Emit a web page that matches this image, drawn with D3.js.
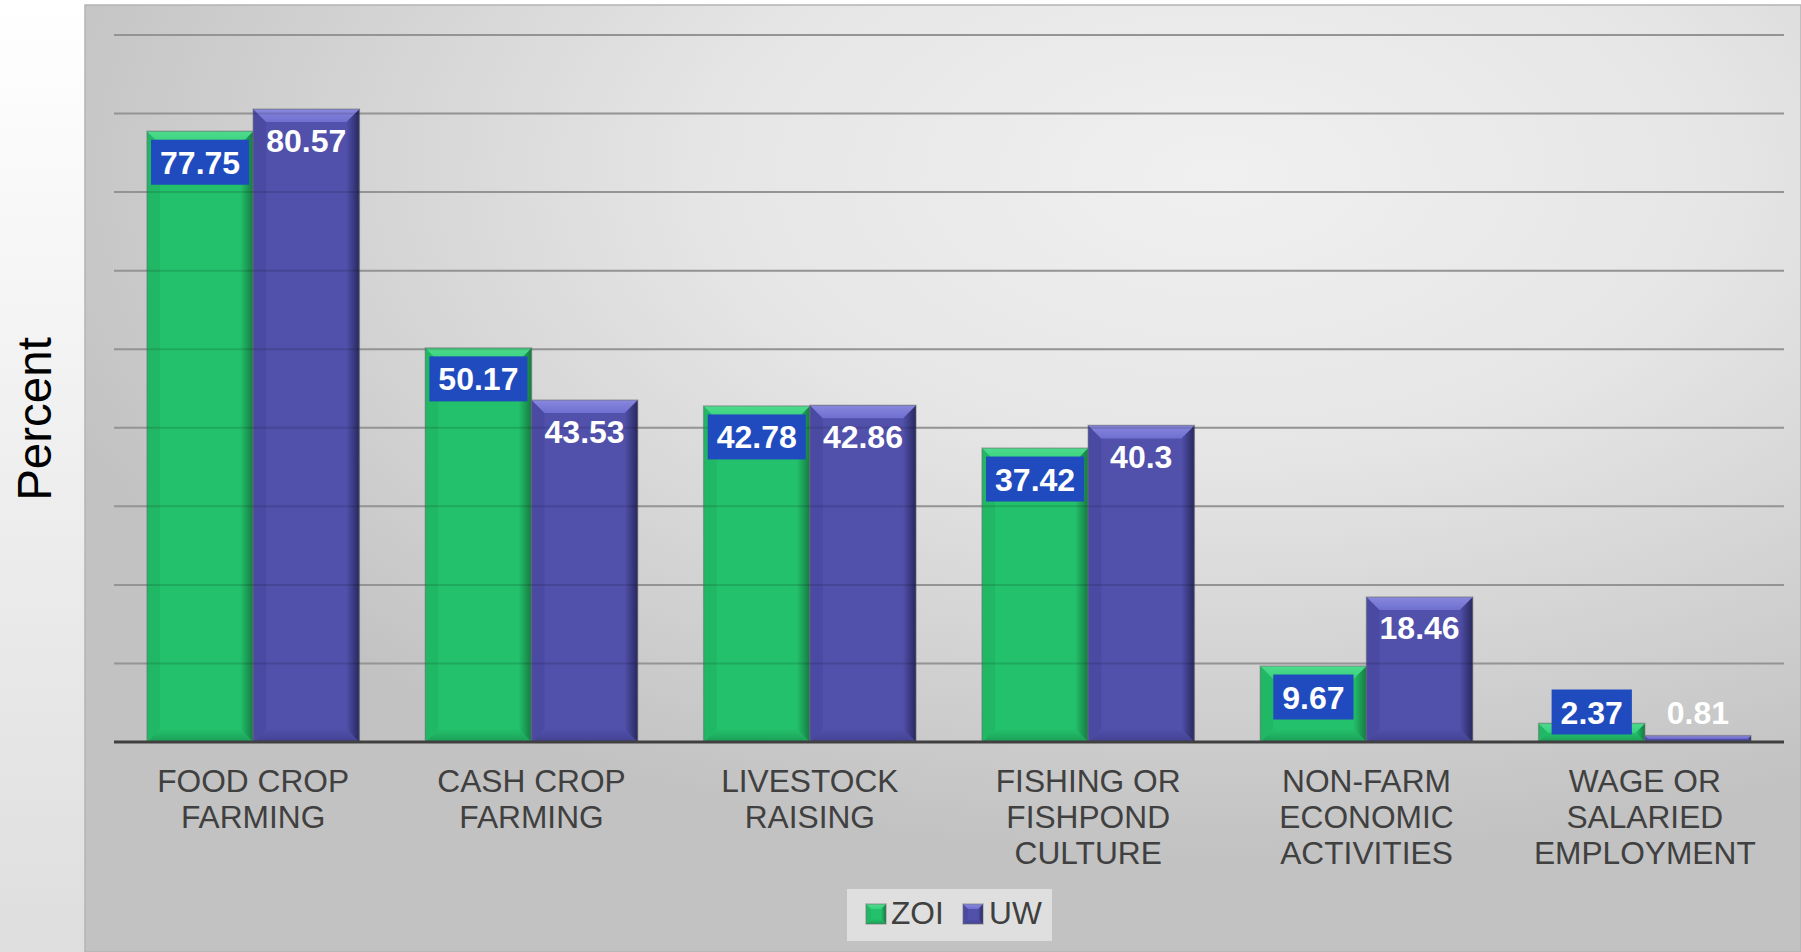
<!DOCTYPE html>
<html><head><meta charset="utf-8">
<script src="https://cdn.jsdelivr.net/npm/d3@7"></script>
<style>html,body{margin:0;padding:0;background:#fff;}svg{display:block;}</style>
</head><body>
<svg id="chart" width="1801" height="952"></svg>
<script>
const categories = ["FOOD CROP FARMING","CASH CROP FARMING","LIVESTOCK RAISING","FISHING OR FISHPOND CULTURE","NON-FARM ECONOMIC ACTIVITIES","WAGE OR SALARIED EMPLOYMENT"];
const categoryLines = [["FOOD CROP","FARMING"],["CASH CROP","FARMING"],["LIVESTOCK","RAISING"],["FISHING OR","FISHPOND","CULTURE"],["NON-FARM","ECONOMIC","ACTIVITIES"],["WAGE OR","SALARIED","EMPLOYMENT"]];
const series = ["ZOI","UW"];
const zoiValues = [77.75, 50.17, 42.78, 37.42, 9.67, 2.37];
const uwValues = [80.57, 43.53, 42.86, 40.3, 18.46, 0.81];
const yTicks = [0,10,20,30,40,50,60,70,80,90];
const yTitle = "Percent";

const svg = d3.select("#chart");
const W = 1801, H = 952;
const defs = svg.append("defs");

const pg = defs.append("linearGradient").attr("id","pageBg").attr("x1",0).attr("y1",0).attr("x2",0).attr("y2",1);
pg.append("stop").attr("offset",0).attr("stop-color","#ffffff");
pg.append("stop").attr("offset",1).attr("stop-color","#dedede");
svg.append("rect").attr("width",W).attr("height",H).attr("fill","url(#pageBg)");

const cg = defs.append("radialGradient").attr("id","chartBg")
  .attr("cx",0.66).attr("cy",0.18).attr("r",0.72);
cg.append("stop").attr("offset",0).attr("stop-color","#f0f0f0");
cg.append("stop").attr("offset",0.4).attr("stop-color","#e6e6e6");
cg.append("stop").attr("offset",1).attr("stop-color","#c2c2c2");
svg.append("rect").attr("x",85).attr("y",5).attr("width",W-85).attr("height",H-5)
  .attr("fill","url(#chartBg)").attr("stroke","#b4b4b4").attr("stroke-width",1.5);

const plot = {left:114, right:1784, top:35, bottom:742};
const x0 = d3.scaleBand().domain(categories).range([plot.left, plot.right]).paddingInner(0.237).paddingOuter(0.1185);
const x1 = d3.scaleBand().domain(series).range([0, x0.bandwidth()]);
const y = d3.scaleLinear().domain([0,90]).range([plot.bottom, plot.top]);

const grid = svg.append("g");
grid.selectAll("line").data(yTicks.filter(d=>d>0)).join("line")
  .attr("x1",plot.left).attr("x2",plot.right)
  .attr("y1",d=>y(d)).attr("y2",d=>y(d))
  .attr("stroke","#a9a9a9").attr("stroke-width",2);

const palette = {
  ZOI: {body:"#23c16b", top:"#36d07c", bottom:"#1c9e57", left:"#21b865", right:"#157a42", light:"#4edb8d"},
  UW:  {body:"#5150ab", top:"#6f6fd0", bottom:"#424292", left:"#4b4aa3", right:"#28285e", light:"#8888de"}
};
Object.entries(palette).forEach(([k,c])=>{
  const g = defs.append("linearGradient").attr("id","rg"+k).attr("x1",0).attr("x2",1).attr("y1",0).attr("y2",0);
  g.append("stop").attr("offset",0).attr("stop-color",c.body);
  g.append("stop").attr("offset",1).attr("stop-color",c.right);
  const t = defs.append("linearGradient").attr("id","tg"+k).attr("x1",0).attr("x2",0).attr("y1",0).attr("y2",1);
  t.append("stop").attr("offset",0).attr("stop-color",c.light);
  t.append("stop").attr("offset",1).attr("stop-color",c.top);
  const b = defs.append("linearGradient").attr("id","bg"+k).attr("x1",0).attr("x2",0).attr("y1",0).attr("y2",1);
  b.append("stop").attr("offset",0).attr("stop-color",c.body);
  b.append("stop").attr("offset",1).attr("stop-color",c.bottom);
});

function bevelBar(g, x, yTop, w, h, key, bev){
  const c = palette[key];
  const b = Math.max(0, Math.min(bev, h/2, w/2));
  const pts = a => a.map(p=>p.join(",")).join(" ");
  g.append("rect").attr("x",x).attr("y",yTop).attr("width",w).attr("height",h).attr("fill",c.body);
  g.append("polygon").attr("points",pts([[x,yTop+h],[x+w,yTop+h],[x+w-b,yTop+h-b],[x+b,yTop+h-b]])).attr("fill","url(#bg"+key+")");
  g.append("polygon").attr("points",pts([[x,yTop],[x+b,yTop+b],[x+b,yTop+h-b],[x,yTop+h]])).attr("fill",c.left);
  g.append("polygon").attr("points",pts([[x+w,yTop],[x+w-b,yTop+b],[x+w-b,yTop+h-b],[x+w,yTop+h]])).attr("fill","url(#rg"+key+")");
  g.append("polygon").attr("points",pts([[x,yTop],[x+w,yTop],[x+w-b,yTop+b],[x+b,yTop+b]])).attr("fill","url(#tg"+key+")");
  g.append("rect").attr("x",x).attr("y",yTop).attr("width",w).attr("height",h)
    .attr("fill","none").attr("stroke","rgba(110,110,110,0.45)").attr("stroke-width",1.5);
}

const seriesValues = {ZOI: zoiValues, UW: uwValues};
const barsG = svg.append("g");
categories.forEach((cat,i)=>{
  series.forEach(s=>{
    const v = seriesValues[s][i];
    const bx = x0(cat) + x1(s);
    const top = y(v);
    bevelBar(barsG, bx, top, x1.bandwidth(), plot.bottom - top, s, 13);
  });
});

svg.append("g").selectAll("line").data(yTicks.filter(d=>d>0)).join("line")
  .attr("x1",plot.left).attr("x2",plot.right)
  .attr("y1",d=>y(d)).attr("y2",d=>y(d))
  .attr("stroke","rgba(0,0,0,0.12)").attr("stroke-width",2);

svg.append("line").attr("x1",plot.left).attr("x2",plot.right)
  .attr("y1",plot.bottom).attr("y2",plot.bottom)
  .attr("stroke","#404040").attr("stroke-width",3);

const labG = svg.append("g").attr("font-family","'Liberation Sans', Arial, sans-serif")
  .attr("font-weight","bold").attr("font-size",32);
categories.forEach((cat,i)=>{
  series.forEach(s=>{
    const v = seriesValues[s][i];
    const cx = x0(cat) + x1(s) + x1.bandwidth()/2;
    const cy = Math.min(y(v) + 31, plot.bottom - 30);
    const g = labG.append("g");
    const t = g.append("text").attr("x",cx).attr("y",cy+11.5).attr("text-anchor","middle")
      .attr("fill","#ffffff").text(String(v));
    if (s === "ZOI") {
      const tw = t.node().getComputedTextLength();
      g.insert("rect","text").attr("x",cx - tw/2 - 9).attr("y",cy-22.5)
        .attr("width",tw+18).attr("height",45).attr("fill","#1f4bbf");
    }
  });
});

const catG = svg.append("g").attr("font-family","'Liberation Sans', Arial, sans-serif")
  .attr("font-size",31.7).attr("fill","#404040").attr("text-anchor","middle");
categories.forEach((cat,i)=>{
  const cx = x0(cat) + x0.bandwidth()/2;
  categoryLines[i].forEach((ln,j)=>{
    catG.append("text").attr("x",cx).attr("y",792 + j*36).text(ln);
  });
});

svg.append("text").attr("transform","translate(51,419) rotate(-90)")
  .attr("text-anchor","middle").attr("font-family","'Liberation Sans', Arial, sans-serif")
  .attr("font-size",47.5).attr("fill","#000").text(yTitle);

const lg = svg.append("g");
lg.append("rect").attr("x",847).attr("y",889).attr("width",205).attr("height",52).attr("fill","#e4e4e4").attr("opacity",0.85);
const legendPos = {ZOI:{mx:866, tx:891}, UW:{mx:963, tx:989}};
series.forEach(s=>{
  const p = legendPos[s];
  bevelBar(lg, p.mx, 904, 20, 20, s, 5);
  lg.append("text").attr("x",p.tx).attr("y",924).attr("font-family","'Liberation Sans', Arial, sans-serif")
    .attr("font-size",31.7).attr("fill","#404040").text(s);
});
</script>
</body></html>
